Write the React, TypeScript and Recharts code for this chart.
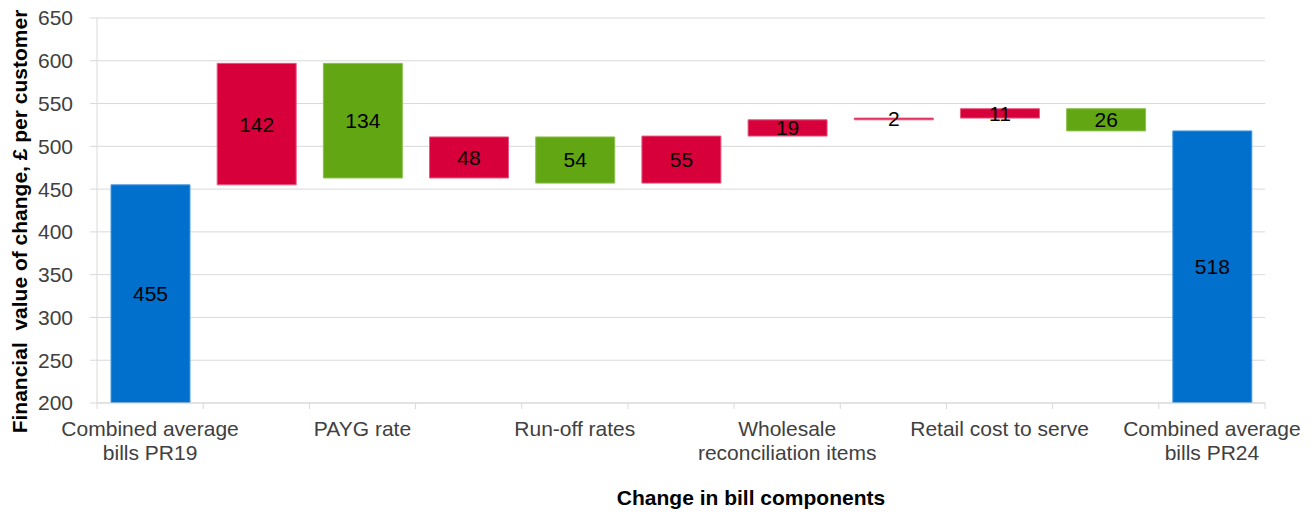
import React from 'react';
import { ComposedChart, Bar, XAxis, YAxis, CartesianGrid, LabelList, Cell, Label } from 'recharts';

const FONT = '"Liberation Sans", Arial, sans-serif';

// Category labels (Excel hid every other label, those are blank here)
const categories: string[] = [
  'Combined average\nbills PR19',
  '',
  'PAYG rate',
  '',
  'Run-off rates',
  '',
  'Wholesale\nreconciliation items',
  '',
  'Retail cost to serve',
  '',
  'Combined average\nbills PR24',
];

// Changes in £ per customer (totals for first and last)
const changes: number[] = [455, 142, -134, 48, -54, 55, 19, 2, 11, -26, 518];
const isTotal: boolean[] = [true, false, false, false, false, false, false, false, false, false, true];

const yTicks: number[] = [200, 250, 300, 350, 400, 450, 500, 550, 600, 650];

const COLORS = {
  total: '#0070cc',
  up: '#d7003a',
  down: '#63a614',
};
const STROKES = {
  total: '#4a9be0',
  up: '#e65a80',
  down: '#8cc24f',
};

type Row = { id: string; kind: 'total' | 'up' | 'down'; amount: number; range: number | [number, number] };

let running = 0;
const data: Row[] = categories.map((_, i) => {
  const v = changes[i];
  if (isTotal[i]) {
    running = v;
    return { id: `c${i}`, kind: 'total', amount: v, range: v };
  }
  const start = running;
  running = start + v;
  return {
    id: `c${i}`,
    kind: v >= 0 ? 'up' : 'down',
    amount: Math.abs(v),
    range: [Math.min(start, running), Math.max(start, running)],
  };
});

const XTick = (props: any) => {
  const { x, y, payload } = props;
  const idx = payload.index ?? props.index;
  const off = payload.offset ?? 0;
  const lines = (categories[idx] || '').split('\n');
  return (
    <g>
      <line x1={x - off} x2={x - off} y1={y} y2={y + 6} stroke="#d9d9d9" strokeWidth={1} />
      {idx === categories.length - 1 && (
        <line x1={x + off} x2={x + off} y1={y} y2={y + 6} stroke="#d9d9d9" strokeWidth={1} />
      )}
      <text x={x} y={y + 33} textAnchor="middle" fontSize={21} fill="#404040" fontFamily={FONT}>
        {lines.map((l, i) => (
          <tspan key={i} x={x} dy={i === 0 ? 0 : 24}>
            {l}
          </tspan>
        ))}
      </text>
    </g>
  );
};

export default function App() {
  return (
    <div style={{ position: 'absolute', left: 0, top: 0, width: 1314, height: 515, background: '#fff' }}>
      <ComposedChart
        width={1314}
        height={515}
        data={data}
        margin={{ top: 18, right: 49, bottom: 0, left: 0 }}
        barGap={0}
      >
        <CartesianGrid vertical={false} stroke="#d9d9d9" strokeWidth={1} />
        <XAxis
          dataKey="id"
          interval={0}
          height={112}
          axisLine={{ stroke: '#d9d9d9' }}
          tickLine={false}
          tickSize={0}
          tickMargin={0}
          tick={<XTick />}
        >
          <Label
            content={(p: any) => {
              const vb = p.viewBox || { x: 97, y: 403, width: 1168 };
              return (
                <text
                  x={vb.x + vb.width / 2 + 70}
                  y={vb.y + 102}
                  textAnchor="middle"
                  fontSize={21}
                  fontWeight="bold"
                  fill="#000"
                  fontFamily={FONT}
                >
                  Change in bill components
                </text>
              );
            }}
          />
        </XAxis>
        <YAxis
          width={97}
          domain={[200, 650]}
          ticks={yTicks}
          interval={0}
          allowDataOverflow
          axisLine={{ stroke: '#d9d9d9' }}
          tickLine={{ stroke: '#d9d9d9' }}
          tickSize={7}
          tickMargin={17}
          tick={{ fontSize: 21, fill: '#404040', fontFamily: FONT }}
        >
          <Label
            content={(p: any) => {
              const vb = p.viewBox || { x: 0, y: 18, height: 385 };
              const cx = vb.x + 27;
              const cy = vb.y + vb.height / 2 + 11;
              return (
                <text
                  x={cx}
                  y={cy}
                  transform={`rotate(-90 ${cx} ${cy})`}
                  textAnchor="middle"
                  fontSize={21}
                  fontWeight="bold"
                  fill="#000"
                  fontFamily={FONT}
                  style={{ whiteSpace: 'pre' }}
                >
                  {'Financial  value of change, £ per customer'}
                </text>
              );
            }}
          />
        </YAxis>
        <Bar dataKey="range" barSize={79} isAnimationActive={false}>
          {data.map((d) => (
            <Cell key={d.id} fill={COLORS[d.kind]} stroke={STROKES[d.kind]} strokeWidth={1} />
          ))}
          <LabelList
            dataKey="amount"
            position="center"
            fill="#000"
            fontSize={21}
            fontFamily={FONT}
          />
        </Bar>
      </ComposedChart>
    </div>
  );
}
